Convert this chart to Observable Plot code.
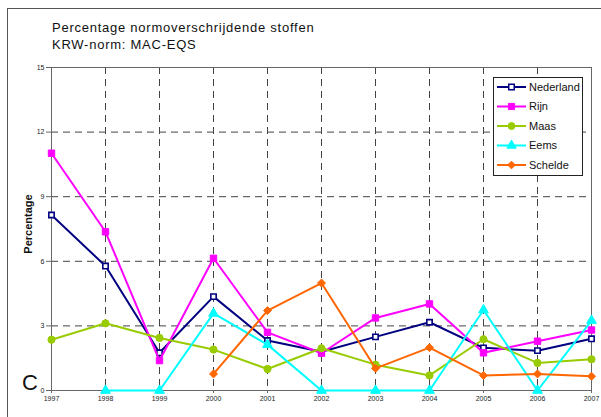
<!DOCTYPE html>
<html><head><meta charset="utf-8">
<script src="https://cdn.jsdelivr.net/npm/d3@7"></script>
<script src="https://cdn.jsdelivr.net/npm/@observablehq/plot@0.6"></script>
<style>
html,body{margin:0;padding:0;background:#fff;overflow:hidden;width:601px;height:417px;}
#wrap{position:relative;width:601px;height:417px;font-family:"Liberation Sans",Arial,sans-serif;}
#border{position:absolute;left:7px;top:8px;width:700px;height:500px;border:1px solid #555;box-sizing:border-box;}
#title{position:absolute;left:52px;top:19px;font-size:13px;line-height:17px;color:#111;letter-spacing:0.75px;}
#bigc{position:absolute;left:22px;top:372px;font-size:22px;line-height:22px;color:#111;}
#ylab{position:absolute;left:28px;top:224px;transform:translate(-50%,-50%) rotate(-90deg);font-size:11px;font-weight:bold;color:#111;white-space:nowrap;}
#chart{position:absolute;left:0;top:0;}
#legend{position:absolute;left:0;top:0;}
</style></head>
<body><div id="wrap">
<div id="border"></div>
<div id="chart"></div>
<div id="title">Percentage normoverschrijdende stoffen<br>KRW-norm: MAC-EQS</div>
<div id="ylab">Percentage</div>
<div id="bigc">C</div>
<div id="legend"></div>
</div>
<script>
const years = [1997,1998,1999,2000,2001,2002,2003,2004,2005,2006,2007];
const seriesNames = ["Nederland","Rijn","Maas","Eems","Schelde"];
const nederland = [8.15,5.78,1.75,4.36,2.32,1.8,2.49,3.17,1.98,1.85,2.40];
const rijn = [11.02,7.37,1.39,6.14,2.70,1.73,3.37,4.02,1.75,2.29,2.81];
const maas = [2.36,3.12,2.44,1.90,1.0,1.96,1.2,0.70,2.38,1.28,1.45];
const eems = [null,0,0,3.58,2.13,0,0,0,3.74,0,3.25];
const schelde = [null,null,null,0.77,3.71,4.99,1.03,1.99,0.70,0.77,0.66];
const yTicks = [0,3,6,9,12,15];
const colors = ["#000080","#FF00FF","#99CC00","#00FFFF","#FF6600"];
const symbols = ["square","square","circle","triangle","diamond2"];
const fills = ["#ffffff","#FF00FF","#99CC00","#00FFFF","#FF6600"];
const allValues = [nederland,rijn,maas,eems,schelde];

const data = [];
seriesNames.forEach((s,i)=>{
  years.forEach((y,j)=>{
    const v = allValues[i][j];
    if (v !== null) data.push({series:s, year:y, value:v, idx:i});
  });
});

const marks = [
  Plot.gridY([3,6,9,12], {stroke:"#444", strokeOpacity:1, strokeDasharray:"7,5", strokeWidth:1}),
  Plot.gridX(years.slice(1,-1), {stroke:"#444", strokeOpacity:1, strokeDasharray:"7,5", strokeWidth:1}),
  Plot.frame({stroke:"#666", strokeWidth:1}),
  Plot.axisY(yTicks, {tickSize:5, tickPadding:2, fontSize:7, stroke:"#666", fill:"#222", label:null, tickFormat:d=>String(d)}),
  Plot.axisX(years, {tickSize:3, tickPadding:3, fontSize:7, stroke:"#666", fill:"#222", label:null, tickFormat:d=>String(d)}),
];
seriesNames.forEach((s,i)=>{
  const d = data.filter(r=>r.series===s);
  marks.push(Plot.line(d,{x:"year",y:"value",stroke:colors[i],strokeWidth:2}));
  marks.push(Plot.dot(d,{x:"year",y:"value",symbol:()=>symbols[i],fill:fills[i],stroke:colors[i],strokeWidth:i===0?1.6:1,r:i===0?3:3.6}));
});

const chart = Plot.plot({
  width:601, height:417,
  marginLeft:51, marginRight:10, marginTop:67, marginBottom:27,
  x:{domain:[1997,2007], type:"linear"},
  y:{domain:[0,15]},
  style:{fontFamily:"'Liberation Sans', Arial, sans-serif", background:"transparent"},
  marks
});
document.getElementById("chart").appendChild(chart);

// legend
const lg = d3.select("#legend").append("svg").attr("width",601).attr("height",417)
  .style("font-family","'Liberation Sans', Arial, sans-serif");
lg.append("rect").attr("x",493.5).attr("y",77.5).attr("width",89).attr("height",98)
  .attr("fill","#fff").attr("stroke","#222").attr("stroke-width",1);
const symMap = {square:d3.symbolSquare, circle:d3.symbolCircle, triangle:d3.symbolTriangle, diamond2:d3.symbolDiamond2};
seriesNames.forEach((s,i)=>{
  const yy = 87 + i*19.5;
  lg.append("line").attr("x1",497).attr("x2",526).attr("y1",yy).attr("y2",yy).attr("stroke",colors[i]).attr("stroke-width",2);
  lg.append("path").attr("d",d3.symbol(symMap[symbols[i]], i===0?30:38)()).attr("transform",`translate(511.5,${yy})`)
    .attr("fill",fills[i]).attr("stroke",colors[i]).attr("stroke-width",i===0?1.5:1);
  lg.append("text").attr("x",529).attr("y",yy).attr("dy","0.35em").attr("font-size",11).attr("fill","#111").text(s);
});
</script>
</body></html>
